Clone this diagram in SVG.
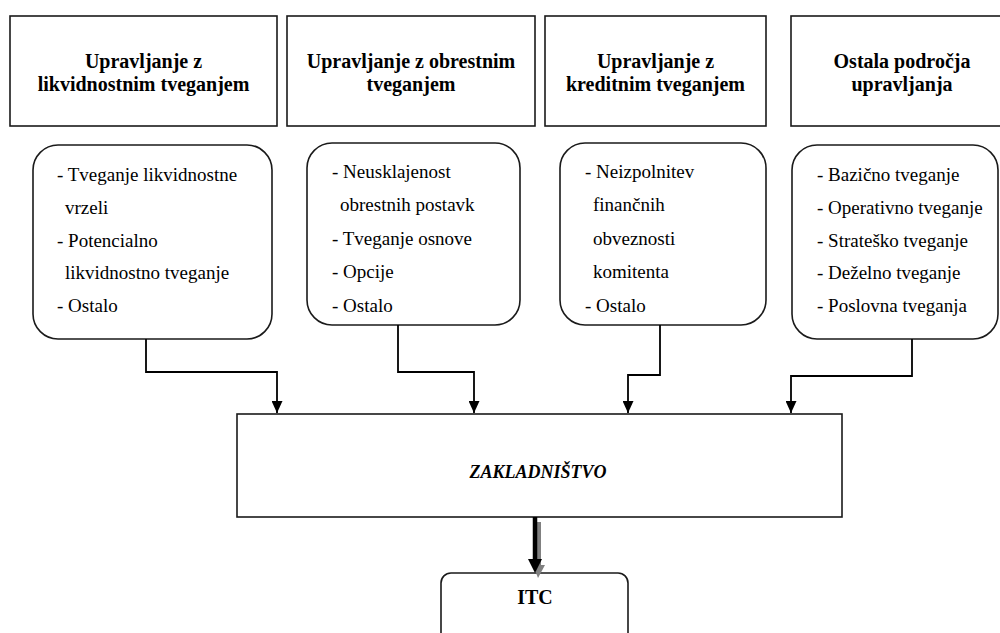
<svg xmlns="http://www.w3.org/2000/svg" width="1000" height="633" viewBox="0 0 1000 633" font-family="'Liberation Serif', 'Times New Roman', 'DejaVu Serif', serif">
<style>
.box{fill:#fff;stroke:#1a1a1a;stroke-width:1.6}
.h{font-family:'Liberation Serif','Times New Roman','DejaVu Serif',serif;font-weight:bold;font-size:20px;text-anchor:middle;fill:#000}
.t{font-family:'Liberation Serif','Times New Roman','DejaVu Serif',serif;font-size:19px;fill:#000}
.z{font-style:italic;font-size:18px}
.c{fill:none;stroke:#000;stroke-width:1.8}
</style>
<defs>
<marker id="ah" markerWidth="12" markerHeight="11" refX="12" refY="5.5" orient="auto" markerUnits="userSpaceOnUse" viewBox="0 0 12 11">
<path d="M0,0 L12,5.5 L0,11 Z" fill="#000"/>
</marker>
</defs>
<rect width="1000" height="633" fill="#fff"/>
<g id="h1"><rect class="box" x="10" y="16" width="267" height="110"/>
<text class="h" x="143.5" y="68">Upravljanje z</text><text class="h" x="143.5" y="91">likvidnostnim tveganjem</text></g>
<g id="h2"><rect class="box" x="287" y="16" width="248" height="110"/>
<text class="h" x="411" y="68">Upravljanje z obrestnim</text><text class="h" x="411" y="91">tveganjem</text></g>
<g id="h3"><rect class="box" x="545" y="16" width="221" height="110"/>
<text class="h" x="655.5" y="68">Upravljanje z</text><text class="h" x="655.5" y="91">kreditnim tveganjem</text></g>
<g id="h4"><rect class="box" x="791" y="16" width="222" height="110"/>
<text class="h" x="902" y="68">Ostala področja</text><text class="h" x="902" y="91">upravljanja</text></g>

<g id="l1"><rect class="box" x="33" y="145" width="239" height="194" rx="25"/>
<text class="t" x="57" y="181">- Tveganje likvidnostne</text>
<text class="t" x="65" y="214">vrzeli</text>
<text class="t" x="57" y="247">- Potencialno</text>
<text class="t" x="65" y="279">likvidnostno tveganje</text>
<text class="t" x="57" y="312">- Ostalo</text></g>
<g id="l2"><rect class="box" x="307" y="143" width="213" height="182" rx="25"/>
<text class="t" x="332" y="178">- Neusklajenost</text>
<text class="t" x="340" y="211">obrestnih postavk</text>
<text class="t" x="332" y="245">- Tveganje osnove</text>
<text class="t" x="332" y="278">- Opcije</text>
<text class="t" x="332" y="312">- Ostalo</text></g>
<g id="l3"><rect class="box" x="560" y="143" width="206" height="182" rx="25"/>
<text class="t" x="585" y="178">- Neizpolnitev</text>
<text class="t" x="593" y="211">finančnih</text>
<text class="t" x="593" y="245">obveznosti</text>
<text class="t" x="593" y="278">komitenta</text>
<text class="t" x="585" y="312">- Ostalo</text></g>
<g id="l4"><rect class="box" x="792" y="145" width="206" height="194" rx="25"/>
<text class="t" x="817" y="181">- Bazično tveganje</text>
<text class="t" x="817" y="214">- Operativno tveganje</text>
<text class="t" x="817" y="247">- Strateško tveganje</text>
<text class="t" x="817" y="279">- Deželno tveganje</text>
<text class="t" x="817" y="312">- Poslovna tveganja</text></g>

<g id="zak"><rect class="box" x="237" y="414" width="605" height="103"/>
<text class="h z" x="538" y="478">ZAKLADNIŠTVO</text></g>
<g id="itc"><rect class="box" x="441" y="573" width="187" height="80" rx="10"/>
<text class="h" x="535" y="604">ITC</text></g>

<g id="connectors">
<path class="c" d="M146,339 V372 H277 V413" marker-end="url(#ah)"/>
<path class="c" d="M398,325 V372 H474 V413" marker-end="url(#ah)"/>
<path class="c" d="M660,325 V375 H628 V413" marker-end="url(#ah)"/>
<path class="c" d="M912,339 V376 H791 V413" marker-end="url(#ah)"/>
<g id="down">
<line x1="539" y1="522" x2="539" y2="566" stroke="#808080" stroke-width="4"/>
<path d="M533,565 L545,565 L538,578 Z" fill="#808080"/>
<line x1="535" y1="517" x2="535" y2="562" stroke="#000" stroke-width="4.5"/>
<path d="M528,559 L542,559 L535,573 Z" fill="#000"/>
</g>
</g>
</svg>
